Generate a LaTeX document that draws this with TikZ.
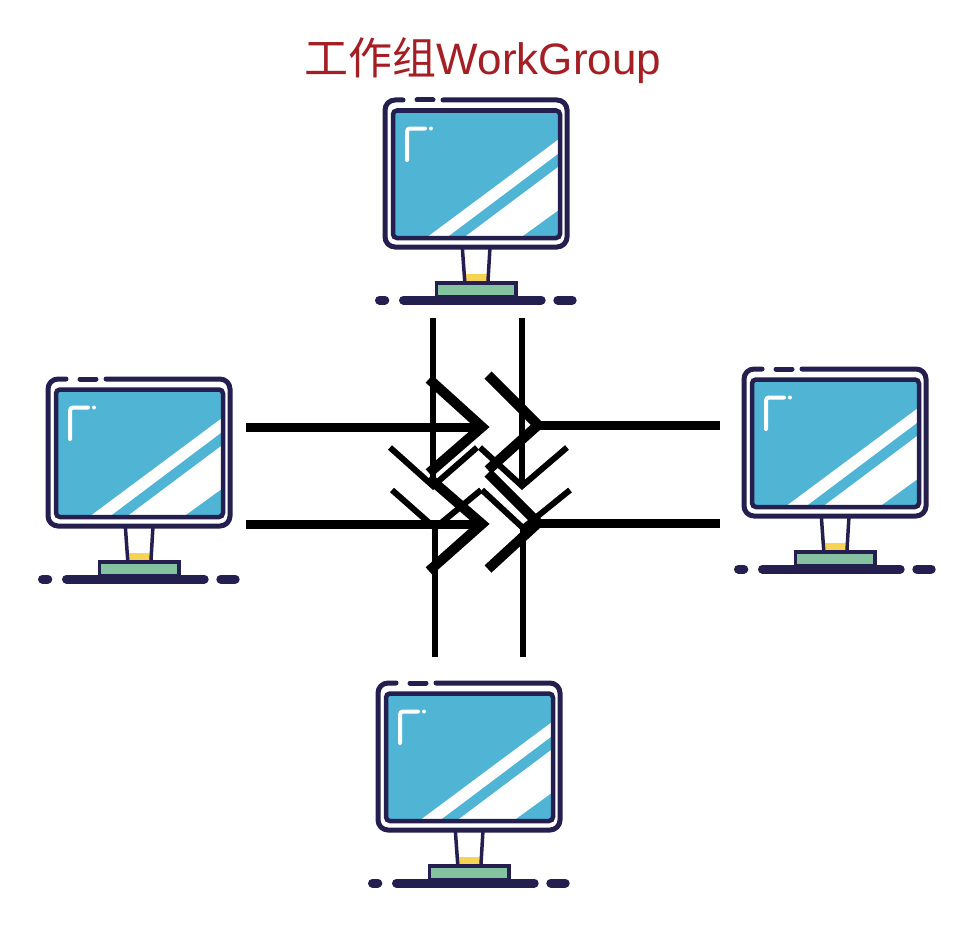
\documentclass[tikz,border=0pt]{standalone}
\usepackage{fontspec}
\usepackage{xcolor}
\setmainfont{Liberation Sans}
\newfontfamily\cjk{Noto Sans CJK SC}
\definecolor{navy}{HTML}{241F4F}
\definecolor{screenblue}{HTML}{50B4D4}
\definecolor{basegreen}{HTML}{85C29F}
\definecolor{neckyellow}{HTML}{F7D354}
\definecolor{titlered}{HTML}{A31F24}
\tikzset{
    thickwire/.style={line width=9pt},
    thickbarb/.style={line width=10pt},
    thinwire/.style={line width=6pt},
    monitor/.pic={
        \fill[screenblue,rounded corners=4pt] (8,10.5) rectangle (175,138);
        \fill[white] (41,138) -- (61,138) -- (175,52.3) -- (175,38.3) -- cycle;
        \fill[white] (78.3,138) -- (135,138) -- (175,109) -- (175,65.6) -- cycle;
        \draw[navy,line width=4.5pt,rounded corners=4pt] (8,10.5) rectangle (175,138);
        \draw[navy,line width=5pt,line cap=round,rounded corners=10pt]
            (18,0) -- (0,0) -- (0,147) -- (182,147) -- (182,0) -- (58,0);
        \draw[navy,line width=5pt,line cap=round] (32,0) -- (48,0);
        \draw[white,line width=4pt,line cap=round,rounded corners=3pt] (22,60) -- (22,28.5) -- (40,28.5);
        \fill[white] (46,28.5) circle (2pt);
        \fill[neckyellow] (81,174) rectangle (101.7,181);
        \draw[navy,line width=3.5pt] (77.3,147) -- (79.7,181);
        \draw[navy,line width=3.5pt] (105,147) -- (103,181);
        \draw[navy,line width=3.7pt,fill=basegreen] (51.5,182.7) rectangle (131,197);
        \draw[navy,line width=9pt,line cap=round] (-5.5,200) -- (-0.2,200);
        \draw[navy,line width=9pt,line cap=round] (18.5,200) -- (156.2,200);
        \draw[navy,line width=9pt,line cap=round] (172.8,200) -- (187.2,200);
    }
}
\begin{document}
\begin{tikzpicture}[x=1pt,y=-1pt]
    \useasboundingbox (0,0) rectangle (978,934);

    \node[text=titlered,font=\fontsize{44}{44}\selectfont] (title) at (483,61) {{\cjk 工作组}WorkGroup};

    \pic (monTop) at (385,100) {monitor};
    \pic (monLeft) at (48,379) {monitor};
    \pic (monRight) at (744,369) {monitor};
    \pic (monBottom) at (378,683) {monitor};

    \coordinate (leftA) at (246,427);
    \coordinate (leftB) at (246,524);
    \coordinate (rightA) at (720,425);
    \coordinate (rightB) at (720,523);
    \coordinate (topA) at (433,318);
    \coordinate (topB) at (522,318);
    \coordinate (downA) at (435,657);
    \coordinate (downB) at (523,657);
    \coordinate (hubA) at (482,427);
    \coordinate (hubB) at (482,524);
    \coordinate (hubC) at (538,425);
    \coordinate (hubD) at (538,523);
    \coordinate (hubE) at (433,486);
    \coordinate (hubF) at (522,486);
    \coordinate (hubG) at (435,528);
    \coordinate (hubH) at (523,528);

    % the long wires
    \draw[thickwire] (leftA) -- (hubA);
    \draw[thickwire] (leftB) -- (hubB);
    \draw[thickwire] (rightA) -- (hubC);
    \draw[thickwire] (rightB) -- (hubD);
    \draw[thinwire] (topA) -- (hubE);
    \draw[thinwire] (topB) -- (hubF);
    \draw[thinwire] (downA) -- (hubG);
    \draw[thinwire] (downB) -- (hubH);

    % the barbs
    \draw[thickbarb] (429,379) -- (hubA) -- (429,473);
    \draw[thickbarb] (429,478) -- (hubB) -- (429,571);
    \draw[thickbarb] (488,375) -- (hubC) -- (488,470);
    \draw[thickbarb] (488,473) -- (hubD) -- (488,569);
    \draw[thinwire] (390,447.5) -- (hubE) -- (477,447.5);
    \draw[thinwire] (480,447.5) -- (hubF) -- (567,447.5);
    \draw[thinwire] (392,490) -- (hubG) -- (481,490);
    \draw[thinwire] (482,490) -- (hubH) -- (570,490);
\end{tikzpicture}
\end{document}
